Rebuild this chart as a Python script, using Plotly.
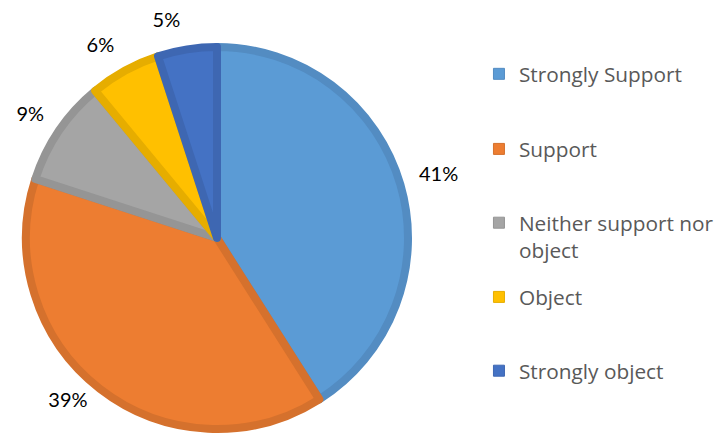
import plotly.graph_objects as go

categories = ["Strongly Support", "Support", "Neither support nor object", "Object", "Strongly object"]
legend_labels = ["Strongly Support", "Support", "Neither support nor<br>object", "Object", "Strongly object"]
values = [41, 39, 9, 6, 5]
fill_colors = ["#5B9BD5", "#ED7D31", "#A5A5A5", "#FFC000", "#4472C4"]
edge_colors = ["#538CC2", "#D5712D", "#959595", "#E6AD00", "#3E67B2"]

W, H = 717, 434
# visible pie: centre (from left, from bottom) and radius in px
cx, cy, r_vis = 217, 196, 191
# transparent ring that carries the percentage labels
tx, ty, r_txt = 218, 203, 203

fig = go.Figure()

fig.add_trace(go.Pie(
    labels=categories, values=values, sort=False, direction="clockwise", rotation=0,
    marker=dict(colors=fill_colors, line=dict(color=edge_colors, width=8)),
    textinfo="none", showlegend=False, hoverinfo="label+percent",
    domain=dict(x=[(cx - r_vis) / W, (cx + r_vis) / W], y=[(cy - r_vis) / H, (cy + r_vis) / H]),
))

fig.add_trace(go.Pie(
    labels=categories, values=values, sort=False, direction="clockwise", rotation=0,
    hole=0.99,
    marker=dict(colors=["rgba(0,0,0,0)"] * 5, line=dict(width=0)),
    textinfo="percent", textposition="outside",
    texttemplate="%{percent:.0%}",
    textfont=dict(family="Lato", size=20, color="#000000"),
    showlegend=False, hoverinfo="skip",
    domain=dict(x=[(tx - r_txt) / W, (tx + r_txt) / W], y=[max(0, (ty - r_txt) / H), (ty + r_txt) / H]),
))

legend_y = [0.876, 0.703, 0.533, 0.362, 0.192]
layout_legends = {}
for i, (lab, col) in enumerate(zip(legend_labels, fill_colors)):
    key = "legend" if i == 0 else f"legend{i+1}"
    fig.add_trace(go.Scatter(
        x=[None], y=[None], mode="markers", name=lab, legend=key,
        marker=dict(symbol="square", size=11, color=col, line=dict(color=edge_colors[i], width=1)),
    ))
    layout_legends[key] = dict(
        x=0.668, y=legend_y[i], xanchor="left", yanchor="top", valign="top",
        font=dict(family="Open Sans", size=20.8, color="#595959"),
        bgcolor="rgba(0,0,0,0)", borderwidth=0, itemclick=False, itemdoubleclick=False,
    )

fig.update_layout(
    width=W, height=H, margin=dict(l=0, r=0, t=0, b=0, autoexpand=False),
    paper_bgcolor="white", plot_bgcolor="white",
    xaxis=dict(visible=False), yaxis=dict(visible=False),
    **layout_legends,
)

fig.write_html(
    "out.html",
    config={"displayModeBar": False},
    post_script="document.body.style.margin='0';document.body.style.overflow='hidden';",
)
